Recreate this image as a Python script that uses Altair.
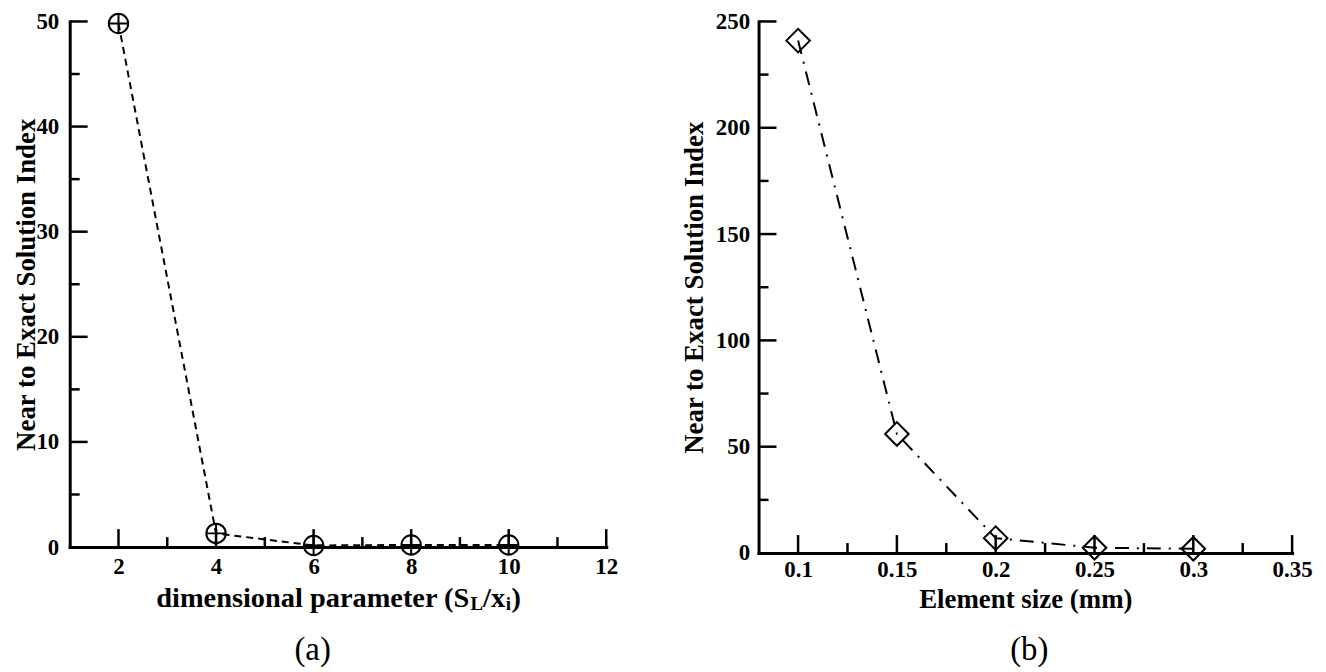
import altair as alt
import pandas as pd

# ---- data ----
x_a = [2, 4, 6, 8, 10]
y_a = [49.8, 1.3, 0.15, 0.2, 0.2]
x_b = [0.1, 0.15, 0.2, 0.25, 0.3]
y_b = [241, 56, 7, 2.5, 2]

a_xmajor = [2, 4, 6, 8, 10, 12]
a_xminor = [3, 5, 7, 9, 11]
a_ylabels = [0, 10, 20, 30, 40, 50]
a_ymajor = [10, 20, 30, 40, 50]
a_yminor = [5, 15, 25, 35, 45]
b_xmajor = [0.1, 0.15, 0.2, 0.25, 0.3, 0.35]
b_xminor = [0.125, 0.175, 0.225, 0.275, 0.325]
b_ylabels = [0, 50, 100, 150, 200, 250]
b_ymajor = [50, 100, 150, 200, 250]
b_yminor = [25, 75, 125, 175, 225]

FONT = "Liberation Serif"
W_A, H_A = 539, 528
W_B, H_B = 536, 534
MAJ, MIN = 18, 10
TW = 2.5
LF = 23

dfa = pd.DataFrame({"x": x_a, "y": y_a})
dfb = pd.DataFrame({"x": x_b, "y": y_b})
one = pd.DataFrame({"k": [0]})


def ticks(xenc, yenc, W, H, xmaj, xmin, ymaj, ymin):
    layers = []
    for vals, ln in ((xmaj, MAJ), (xmin, MIN)):
        layers.append(
            alt.Chart(pd.DataFrame({"x": vals}))
            .mark_rule(color="black", strokeWidth=TW)
            .encode(x=xenc, y=alt.value(H), y2=alt.value(H - ln))
        )
    for vals, ln in ((ymaj, MAJ), (ymin, MIN)):
        layers.append(
            alt.Chart(pd.DataFrame({"y": vals}))
            .mark_rule(color="black", strokeWidth=TW)
            .encode(y=yenc, x=alt.value(0), x2=alt.value(ln))
        )
    return layers


def txt(s, x, y, size, weight="bold", align="left"):
    return (
        alt.Chart(one)
        .mark_text(font=FONT, fontSize=size, fontWeight=weight, align=align,
                   baseline="alphabetic", color="black")
        .encode(x=alt.value(x), y=alt.value(y), text=alt.value(s))
    )


# ---------------- panel (a) ----------------
xa = alt.X(
    "x:Q",
    scale=alt.Scale(domain=[1, 12], nice=False, zero=False),
    axis=alt.Axis(values=a_xmajor, format="d", title=None, labelFontSize=LF,
                  labelPadding=9, labelFlush=False, labelOverlap=False),
)
ya = alt.Y(
    "y:Q",
    scale=alt.Scale(domain=[0, 50], nice=False),
    axis=alt.Axis(values=a_ylabels, format="d", title="Near to Exact Solution Index",
                  labelFontSize=LF, labelPadding=11, labelFlush=False,
                  labelOverlap=False, titleX=-35, titleY=H_A / 2,
                  titleBaseline="alphabetic"),
)

line_a = alt.Chart(dfa).mark_line(color="black", strokeWidth=2, strokeDash=[7, 5]).encode(x=xa, y=ya)
pts_a = alt.Chart(dfa).mark_point(
    shape="M-1,0A1,1,0,1,1,1,0A1,1,0,1,1,-1,0ZM-1,0L1,0M0,-1L0,1",
    filled=False, size=380, stroke="black", strokeWidth=2, opacity=1,
).encode(x=xa, y=ya)

# x-axis title with subscripts (Times-Bold metrics)
F, FS = 28.5, 19
x0 = 87
base = H_A + 60
p1 = x0 + 11.055 * F
p2 = p1 + 0.5 + 0.667 * FS
p3 = p2 + 0.778 * F + 0.5
p4 = p3 + 0.278 * FS + 0.5
title_a = [
    txt("dimensional parameter (S", x0, base, F),
    txt("L", p1 + 0.5, base + 3, FS),
    txt("/x", p2, base, F),
    txt("i", p3, base + 3, FS),
    txt(")", p4, base, F),
]
cap_a = txt("(a)", 244, H_A + 113, 33, weight="normal", align="center")

panel_a = alt.layer(
    *ticks(xa, ya, W_A, H_A, a_xmajor, a_xminor, a_ymajor, a_yminor),
    line_a, pts_a, *title_a, cap_a,
).properties(width=W_A, height=H_A)

# ---------------- panel (b) ----------------
xb = alt.X(
    "x:Q",
    scale=alt.Scale(domain=[0.08, 0.35], nice=False, zero=False),
    axis=alt.Axis(values=b_xmajor, format="~g", title="Element size (mm)",
                  labelFontSize=LF, labelPadding=6, labelFlush=False,
                  labelOverlap=False, titleY=55, titleBaseline="alphabetic"),
)
yb = alt.Y(
    "y:Q",
    scale=alt.Scale(domain=[0, 250], nice=False),
    axis=alt.Axis(values=b_ylabels, format="d", title="Near to Exact Solution Index",
                  labelFontSize=LF, labelPadding=9, labelFlush=False,
                  labelOverlap=False, titleX=-56, titleY=H_B / 2,
                  titleBaseline="alphabetic"),
)

line_b = alt.Chart(dfb).mark_line(color="black", strokeWidth=2, strokeDash=[14, 8, 2, 8]).encode(x=xb, y=yb)
pts_b = alt.Chart(dfb).mark_point(
    shape="diamond", filled=False, size=560, stroke="black", strokeWidth=2, opacity=1,
).encode(x=xb, y=yb)
cap_b = txt("(b)", 272, H_B + 107, 33, weight="normal", align="center")

panel_b = alt.layer(
    *ticks(xb, yb, W_B, H_B, b_xmajor, b_xminor, b_ymajor, b_yminor),
    line_b, pts_b, cap_b,
).properties(width=W_B, height=H_B)

chart = (
    alt.hconcat(panel_a, panel_b, spacing=153, bounds="flush")
    .properties(padding={"left": 5, "top": 0, "right": 5, "bottom": 0}, background="white")
    .configure_view(stroke=None)
    .configure_axis(
        labelFont=FONT, titleFont=FONT, labelColor="black", titleColor="black",
        labelFontWeight="bold", titleFontWeight="bold", titleFontSize=27,
        domainColor="black", domainWidth=3, domainCap="square",
        ticks=False, tickSize=0, grid=False,
    )
)

chart.save("out.html", embed_options={"renderer": "svg", "actions": False})
